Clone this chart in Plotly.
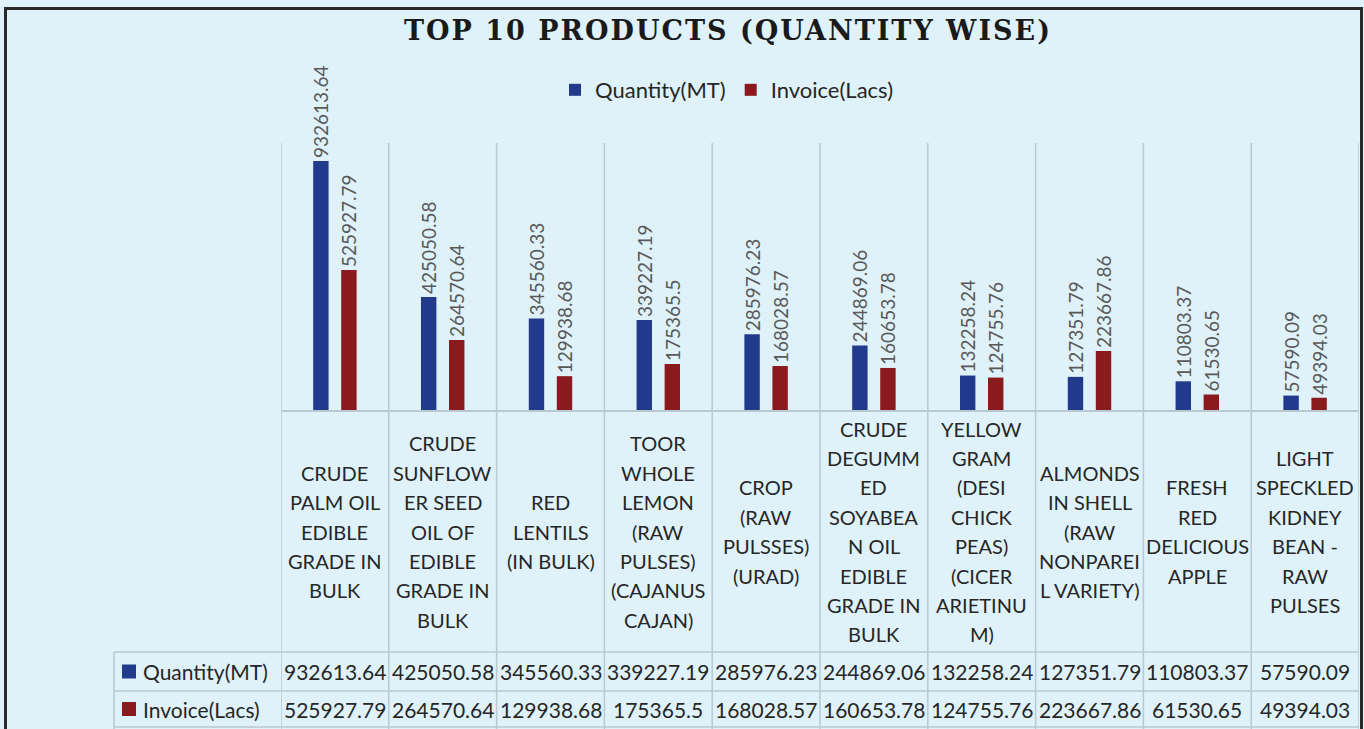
import plotly.graph_objects as go

# ---------------- data ----------------
categories = [
    "CRUDE<br>PALM OIL<br>EDIBLE<br>GRADE IN<br>BULK",
    "CRUDE<br>SUNFLOW<br>ER SEED<br>OIL OF<br>EDIBLE<br>GRADE IN<br>BULK",
    "RED<br>LENTILS<br>(IN BULK)",
    "TOOR<br>WHOLE<br>LEMON<br>(RAW<br>PULSES)<br>(CAJANUS<br>CAJAN)",
    "CROP<br>(RAW<br>PULSSES)<br>(URAD)",
    "CRUDE<br>DEGUMM<br>ED<br>SOYABEA<br>N OIL<br>EDIBLE<br>GRADE IN<br>BULK",
    "YELLOW<br>GRAM<br>(DESI<br>CHICK<br>PEAS)<br>(CICER<br>ARIETINU<br>M)",
    "ALMONDS<br>IN SHELL<br>(RAW<br>NONPAREI<br>L VARIETY)",
    "FRESH<br>RED<br>DELICIOUS<br>APPLE",
    "LIGHT<br>SPECKLED<br>KIDNEY<br>BEAN -<br>RAW<br>PULSES",
]
quantity_mt = [932613.64, 425050.58, 345560.33, 339227.19, 285976.23,
               244869.06, 132258.24, 127351.79, 110803.37, 57590.09]
invoice_lacs = [525927.79, 264570.64, 129938.68, 175365.5, 168028.57,
                160653.78, 124755.76, 223667.86, 61530.65, 49394.03]
series_names = ["Quantity(MT)", "Invoice(Lacs)"]
title_text = "TOP 10 PRODUCTS (QUANTITY WISE)"

# ---------------- style ----------------
W, H = 1364, 729
BG = "#dff2fa"
BLUE = "#213a8c"
RED = "#8a1a1d"
GRID = "#b9c9d1"
FONT = "Lato"
TXT = "#262626"
FRAME = "#2a2a2a"
PL, PR, PT, PB = 281, 1359, 143, 411  # plot area in pixels


def px_x(p):
    return (p - PL) / (PR - PL)


def px_y(p):
    return (PB - p) / (PB - PT)


n = len(categories)
idx = list(range(n))

fig = go.Figure()
for name, vals, col in [(series_names[0], quantity_mt, BLUE),
                        (series_names[1], invoice_lacs, RED)]:
    fig.add_trace(go.Bar(
        x=idx, y=vals, name=name, marker=dict(color=col, line=dict(width=0)),
        text=[str(v) for v in vals], textposition="outside", textangle=-90,
        constraintext="none", cliponaxis=False,
        textfont=dict(family=FONT, size=19, color="#595959"),
    ))

shapes = []
annotations = []

# vertical category separators (grid + table columns)
for i in range(n + 1):
    shapes.append(dict(type="line", xref="x", yref="paper",
                       x0=i - 0.5, x1=i - 0.5, y0=px_y(PT), y1=px_y(729),
                       line=dict(color=GRID, width=1.5)))
# axis line / table horizontal borders
shapes.append(dict(type="line", xref="x", yref="paper", x0=-0.5, x1=n - 0.5,
                   y0=0, y1=0, line=dict(color=GRID, width=2)))
row_tops = [652, 691, 727]
for yy in row_tops:
    shapes.append(dict(type="line", xref="paper", yref="paper",
                       x0=px_x(114), x1=1, y0=px_y(yy), y1=px_y(yy),
                       line=dict(color=GRID, width=1.5)))
shapes.append(dict(type="line", xref="paper", yref="paper",
                   x0=px_x(114), x1=px_x(114), y0=px_y(652), y1=px_y(729),
                   line=dict(color=GRID, width=1.5)))

# category labels, one annotation per wrapped line
LINE_H = 29.4
CENTER = 531.5
for i, lab in enumerate(categories):
    lines = lab.split("<br>")
    k = len(lines)
    for j, ln in enumerate(lines):
        yc = CENTER + (j - (k - 1) / 2) * LINE_H
        annotations.append(dict(x=i, y=px_y(yc), xref="x", yref="paper",
                                text=ln, showarrow=False, xanchor="center",
                                yanchor="middle",
                                font=dict(family=FONT, size=20, color=TXT)))

# data table values
row_centers = [671.5, 709]
for r, (vals, col, name) in enumerate([(quantity_mt, BLUE, series_names[0]),
                                       (invoice_lacs, RED, series_names[1])]):
    yc = row_centers[r]
    for i, v in enumerate(vals):
        annotations.append(dict(x=i, y=px_y(yc), xref="x", yref="paper",
                                text=str(v), showarrow=False, xanchor="center",
                                yanchor="middle",
                                font=dict(family=FONT, size=21, color=TXT)))
    shapes.append(dict(type="rect", xref="paper", yref="paper",
                       x0=px_x(122), x1=px_x(136), y0=px_y(yc - 7), y1=px_y(yc + 7),
                       fillcolor=col, line=dict(width=0)))
    annotations.append(dict(x=px_x(141), y=px_y(yc), xref="paper", yref="paper",
                            text=name, showarrow=False, xanchor="left",
                            yanchor="middle",
                            font=dict(family=FONT, size=21, color=TXT)))

# outer frame (filled thin rectangles: top, left, right; bottom lies below the picture)
for (xa, ya, xb, yb) in [(4, 7, 1363, 10), (4, 7, 7, 729), (1360, 7, 1363, 729)]:
    shapes.append(dict(type="rect", xref="paper", yref="paper",
                       x0=px_x(xa), x1=px_x(xb), y0=px_y(yb), y1=px_y(ya),
                       fillcolor=FRAME, line=dict(width=0), layer="above"))

# title
annotations.append(dict(x=px_x(727.5), y=px_y(30), xref="paper", yref="paper",
                        text="<b>" + title_text + "</b>", showarrow=False,
                        xanchor="center", yanchor="middle",
                        font=dict(family="DejaVu Serif", size=27, color="#1a1a1a")))

fig.update_layout(
    width=W, height=H,
    paper_bgcolor=BG, plot_bgcolor=BG,
    margin=dict(l=PL, r=W - PR, t=PT, b=H - PB, pad=0),
    barmode="group", bargap=0.48, bargroupgap=0.45,
    xaxis=dict(range=[-0.5, n - 0.5], showticklabels=False, showgrid=False,
               zeroline=False, showline=False, ticks="", fixedrange=True),
    yaxis=dict(range=[0, 1000000], showticklabels=False, showgrid=False,
               zeroline=False, showline=False, ticks="", fixedrange=True),
    legend=dict(orientation="h", x=px_x(727), xanchor="center",
                y=px_y(90), yanchor="middle", bgcolor="rgba(0,0,0,0)",
                font=dict(family=FONT, size=22, color=TXT),
                itemwidth=30, traceorder="normal"),
    shapes=shapes, annotations=annotations,
    showlegend=True,
)

post = """
document.body.style.margin = '0';
document.documentElement.style.background = '%s';
document.body.style.background = '%s';
var gd = document.getElementById('{plot_id}');
function spaceTitle() {
  gd.querySelectorAll('.annotation-text').forEach(function (t) {
    if (t.textContent.indexOf('TOP 10') === 0) {
      t.style.letterSpacing = '2px';
    }
  });
}
spaceTitle();
gd.on && gd.on('plotly_afterplot', spaceTitle);
""" % (BG, BG)

fig.write_html("out.html", post_script=post,
               config={"displayModeBar": False})
